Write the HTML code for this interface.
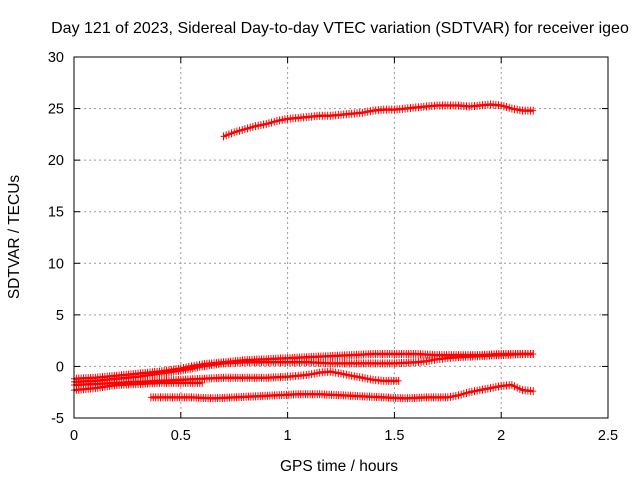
<!DOCTYPE html>
<html><head><meta charset="utf-8"><style>
body{margin:0;background:#fff}
svg{display:block;font-family:"Liberation Sans",sans-serif}
</style></head><body>
<svg id="chart" width="640" height="480">
<rect width="640" height="480" fill="#fff"/>
<text x="340" y="33" text-anchor="middle" font-size="16">Day 121 of 2023, Sidereal Day-to-day VTEC variation (SDTVAR) for receiver igeo</text>
<text x="339" y="471" text-anchor="middle" font-size="15.5">GPS time / hours</text>
<text transform="translate(19,237) rotate(-90)" text-anchor="middle" font-size="15.5">SDTVAR / TECUs</text>
<g id="grid"></g><g id="marks"></g>
<rect x="74" y="57" width="534" height="361" fill="none" stroke="#000"/>
</svg>
<script>
const xTicks=[0,0.5,1,1.5,2,2.5];
const xTickLabels=["0","0.5","1","1.5","2","2.5"];
const yTicks=[-5,0,5,10,15,20,25,30];
const yTickLabels=["-5","0","5","10","15","20","25","30"];
const topX=[0.7,0.75,0.8,0.85,0.9,0.95,1.0,1.05,1.1,1.15,1.2,1.25,1.3,1.35,1.4,1.45,1.5,1.55,1.6,1.65,1.7,1.75,1.8,1.85,1.9,1.95,2.0,2.05,2.1,2.15];
const topY=[22.3,22.7,23.0,23.3,23.5,23.8,24.0,24.1,24.2,24.3,24.3,24.4,24.5,24.6,24.8,24.9,24.9,25.0,25.1,25.2,25.3,25.3,25.3,25.2,25.3,25.4,25.3,25.0,24.8,24.8];
const aX=[0,0.1,0.2,0.3,0.4,0.5,0.55,0.6,0.7,0.8,0.9,1.0,1.1,1.2,1.3,1.4,1.5,1.6,1.7,1.8,1.9,2.0,2.1,2.15];
const aY=[-1.2,-1.1,-0.9,-0.7,-0.5,-0.2,0,0.2,0.4,0.6,0.7,0.8,0.9,1.0,1.1,1.2,1.2,1.2,1.1,1.1,1.1,1.2,1.2,1.2];
const bX=[0,0.1,0.2,0.3,0.4,0.5,0.6,0.7,0.8,0.9,1.0,1.1,1.2,1.3,1.4,1.5,1.6,1.65,1.7,1.75,1.8,1.9,2.0,2.1,2.15];
const bY=[-1.5,-1.4,-1.2,-1.0,-0.7,-0.4,0,0.3,0.4,0.4,0.4,0.4,0.3,0.3,0.3,0.3,0.4,0.5,0.7,0.8,0.9,1.0,1.1,1.2,1.2];
const cX=[0,0.1,0.2,0.3,0.4,0.5,0.6,0.7,0.8,0.9,1.0,1.05,1.1,1.15,1.2,1.25,1.3,1.35,1.4,1.45,1.52];
const cY=[-1.8,-1.7,-1.6,-1.5,-1.4,-1.3,-1.2,-1.1,-1.1,-1.1,-1.0,-0.9,-0.8,-0.6,-0.5,-0.7,-0.9,-1.1,-1.3,-1.4,-1.4];
const dX=[0,0.1,0.2,0.3,0.4,0.5,0.6];
const dY=[-2.3,-2.1,-1.8,-1.7,-1.6,-1.6,-1.6];
const eX=[0.36,0.45,0.55,0.65,0.75,0.85,0.95,1.05,1.15,1.25,1.35,1.45,1.55,1.65,1.75,1.8,1.85,1.9,1.95,2.0,2.05,2.1,2.15];
const eY=[-3.0,-3.0,-3.0,-3.1,-3.0,-2.9,-2.8,-2.7,-2.7,-2.8,-2.9,-3.0,-3.1,-3.0,-3.0,-2.8,-2.5,-2.3,-2.1,-1.9,-1.8,-2.3,-2.4];
const series=[[topX,topY],[aX,aY],[bX,bY],[cX,cY],[dX,dY],[eX,eY]];
const X0=74,X1=608,Y0=418,Y1=57;
const sx=v=>X0+(v-0)/(2.5-0)*(X1-X0);
const sy=v=>Y0-(v+5)/35*(Y0-Y1);
const NS="http://www.w3.org/2000/svg";
const grid=document.getElementById('grid'),marks=document.getElementById('marks');
function mk(t,a,p){const e=document.createElementNS(NS,t);for(const k in a)e.setAttribute(k,a[k]);p.appendChild(e);return e;}
xTicks.forEach((t,i)=>{const x=sx(t);
 if(i>0&&i<xTicks.length-1){const g=mk('line',{x1:x,x2:x,y1:Y1,y2:Y0,stroke:'#999','stroke-dasharray':'2,3'},grid);
 
 }
 mk('line',{x1:x,x2:x,y1:Y0,y2:Y0-6,stroke:'#000'},grid);mk('line',{x1:x,x2:x,y1:Y1,y2:Y1+6,stroke:'#000'},grid);
 const tx=mk('text',{x:x,y:Y0+22,'text-anchor':'middle','font-size':14.5},grid);tx.textContent=xTickLabels[i];
 
 });
yTicks.forEach((t,i)=>{const y=sy(t);
 if(i>0&&i<yTicks.length-1){const g=mk('line',{x1:X0,x2:X1,y1:y,y2:y,stroke:'#999','stroke-dasharray':'2,3'},grid);
 
 }
 mk('line',{x1:X0,x2:X0+6,y1:y,y2:y,stroke:'#000'},grid);mk('line',{x1:X1,x2:X1-6,y1:y,y2:y,stroke:'#000'},grid);
 const tx=mk('text',{x:X0-10,y:y+5,'text-anchor':'end','font-size':14.5},grid);tx.textContent=yTickLabels[i];
 
 });
series.forEach(([xs,ys],si)=>{
 const g=mk('g',{},marks);
 
 
 mk('polyline',{points:xs.map((x,i)=>sx(x)+','+sy(ys[i])).join(' '),fill:'none',stroke:'#f00','stroke-width':2.5},g);
 for(let i=0;i<xs.length-1;i++){
  const n=Math.max(1,Math.round((sx(xs[i+1])-sx(xs[i]))/2.5));
  for(let k=0;k<n;k++){const f=k/n;const x=sx(xs[i])+f*(sx(xs[i+1])-sx(xs[i])),y=sy(ys[i])+f*(sy(ys[i+1])-sy(ys[i]));
   mk('path',{d:`M${x-3},${y}h6M${x},${y-4}v8`,stroke:'#f00','stroke-width':1},g);}
 }
 const lx=sx(xs[xs.length-1]),ly=sy(ys[ys.length-1]);
 mk('path',{d:`M${lx-3},${ly}h6M${lx},${ly-4}v8`,stroke:'#f00','stroke-width':1},g);
});
</script>
</body></html>
